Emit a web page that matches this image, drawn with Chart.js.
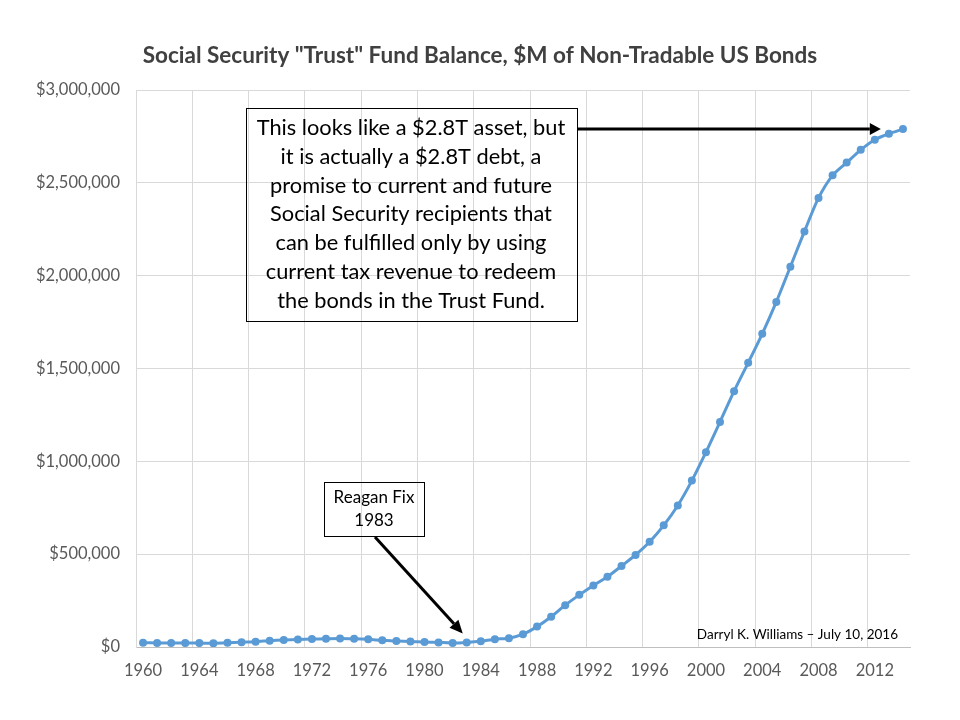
<!DOCTYPE html>
<html>
<head>
<meta charset="utf-8">
<script src="https://cdn.jsdelivr.net/npm/chart.js@4.4.0/dist/chart.umd.min.js"></script>
<style>
    html, body { margin: 0; padding: 0; background: #ffffff; }
    #wrap { width: 960px; height: 720px; }
</style>
</head>
<body>
<div id="wrap"><canvas id="chartFund"></canvas></div>
<script>
// Social Security trust fund balance, $M, end of year
var years = ['1960', '1961', '1962', '1963', '1964', '1965', '1966', '1967', '1968', '1969',
             '1970', '1971', '1972', '1973', '1974', '1975', '1976', '1977', '1978', '1979',
             '1980', '1981', '1982', '1983', '1984', '1985', '1986', '1987', '1988', '1989',
             '1990', '1991', '1992', '1993', '1994', '1995', '1996', '1997', '1998', '1999',
             '2000', '2001', '2002', '2003', '2004', '2005', '2006', '2007', '2008', '2009',
             '2010', '2011', '2012', '2013', '2014'];
var balances = [22613, 22162, 21697, 21504, 21172, 19841, 22308, 26250, 28729, 34182,
                38068, 40434, 42775, 44414, 45886, 44342, 41133, 35861, 31746, 30291,
                26453, 24539, 22088, 24867, 31075, 42163, 46861, 68807, 109762, 162968,
                225277, 280747, 331473, 378285, 436385, 496068, 566950, 655483, 762461, 896133,
                1049445, 1212473, 1377967, 1530764, 1686752, 1858660, 2048100, 2238455, 2418715, 2540346,
                2608950, 2677925, 2732334, 2764376, 2789499];
var yTicks = [0, 500000, 1000000, 1500000, 2000000, 2500000, 3000000];

var titleText = 'Social Security "Trust" Fund Balance, $M of Non-Tradable US Bonds';
var noteLines = ['This looks like a $2.8T asset, but',
                 'it is actually a $2.8T debt, a',
                 'promise to current and future',
                 'Social Security recipients that',
                 'can be fulfilled only by using',
                 'current tax revenue to redeem',
                 'the bonds in the Trust Fund.'];
var reaganLines = ['Reagan Fix', '1983'];
var credit = 'Darryl K. Williams \u2013 July 10, 2016';

var fontName = 'Lato, "Open Sans", sans-serif';

function drawArrow(c, x1, y1, x2, y2, headLen, headHalf) {
    var ang = Math.atan2(y2 - y1, x2 - x1);
    var bx = x2 - headLen * Math.cos(ang);
    var by = y2 - headLen * Math.sin(ang);
    c.beginPath();
    c.moveTo(x1, y1);
    c.lineTo(bx, by);
    c.stroke();
    c.beginPath();
    c.moveTo(x2, y2);
    c.lineTo(bx + headHalf * Math.sin(ang), by - headHalf * Math.cos(ang));
    c.lineTo(bx - headHalf * Math.sin(ang), by + headHalf * Math.cos(ang));
    c.closePath();
    c.fill();
}

// text boxes, arrows and the credit line
var annotations = {
    id: 'annotations',
    afterDraw: function (chart) {
        var c = chart.ctx;
        var xs = chart.scales.x, ys = chart.scales.y;
        c.save();
        c.strokeStyle = '#000000';
        c.fillStyle = '#000000';
        c.lineWidth = 1;

        // big note
        c.strokeRect(246.5, 108.5, 331, 213);
        c.font = '21.8px ' + fontName;
        c.textAlign = 'center';
        c.textBaseline = 'middle';
        for (var i = 0; i < noteLines.length; i++) {
            c.fillText(noteLines[i], 411, 128 + i * 28.8);
        }
        var last = balances.length - 1;
        var tipY = ys.getPixelForValue(balances[last]);
        c.lineWidth = 3;
        drawArrow(c, 578, tipY, xs.getPixelForValue(52) + 6, tipY, 11, 6);

        // Reagan note
        c.lineWidth = 1;
        c.strokeRect(324.5, 482.5, 100, 54);
        c.font = '17px ' + fontName;
        c.fillText(reaganLines[0], 374, 498);
        c.fillText(reaganLines[1], 374, 521);
        var i83 = years.indexOf('1983');
        c.lineWidth = 3;
        drawArrow(c, 375, 537, xs.getPixelForValue(i83) - 4, ys.getPixelForValue(balances[i83]) - 9, 13, 6);

        // credit
        c.font = '13.5px ' + fontName;
        c.textAlign = 'right';
        c.fillText(credit, 898, 635);
        c.restore();
    }
};

var ctx = document.getElementById('chartFund').getContext('2d');
var chart = new Chart(ctx, {
    type: 'line',
    data: {
        labels: years,
        datasets: [{
            label: 'Trust Fund Balance',
            data: balances,
            borderColor: '#5b9bd5',
            backgroundColor: '#5b9bd5',
            borderWidth: 3,
            pointRadius: 4,
            pointBorderWidth: 0,
            pointBackgroundColor: '#5b9bd5',
            tension: 0.25,
            fill: false
        }]
    },
    options: {
        responsive: true,
        maintainAspectRatio: false,
        animation: false,
        layout: { padding: 0 },
        plugins: {
            legend: { display: false },
            tooltip: { enabled: false },
            title: {
                display: true,
                text: titleText,
                color: '#404040',
                font: { family: fontName, size: 22.5, weight: 'bold', lineHeight: 1.2 },
                padding: { top: 42, bottom: 21 }
            }
        },
        scales: {
            x: {
                type: 'category',
                offset: true,
                grid: {
                    offset: true,
                    drawTicks: false,
                    color: function (c) {
                        return (c.index !== undefined && c.index % 4 === 0) ? '#d9d9d9' : 'rgba(0,0,0,0)';
                    }
                },
                border: { display: true, color: '#bfbfbf', width: 1 },
                ticks: {
                    autoSkip: false,
                    maxRotation: 0,
                    padding: 14,
                    color: '#595959',
                    font: { family: fontName, size: 16.5 },
                    callback: function (value, index) {
                        return index % 4 === 0 ? this.getLabelForValue(value) : '';
                    }
                },
                afterFit: function (axis) { axis.height = 73; }
            },
            y: {
                min: 0,
                max: 3000000,
                grid: { color: '#d9d9d9', drawTicks: false },
                border: { display: true, color: '#d9d9d9' },
                afterBuildTicks: function (axis) {
                    axis.ticks = yTicks.map(function (v) { return { value: v }; });
                },
                ticks: {
                    padding: 16,
                    color: '#595959',
                    font: { family: fontName, size: 16.5 },
                    callback: function (value) {
                        return '$' + value.toLocaleString('en-US');
                    }
                },
                afterFit: function (axis) { axis.width = 136; }
            },
            // empty right-hand axis, only reserves the right margin
            yRight: {
                position: 'right',
                min: 0,
                max: 3000000,
                grid: { display: false },
                border: { display: false },
                ticks: { display: false },
                afterFit: function (axis) { axis.width = 50; }
            }
        }
    },
    plugins: [annotations]
});
</script>
</body>
</html>
